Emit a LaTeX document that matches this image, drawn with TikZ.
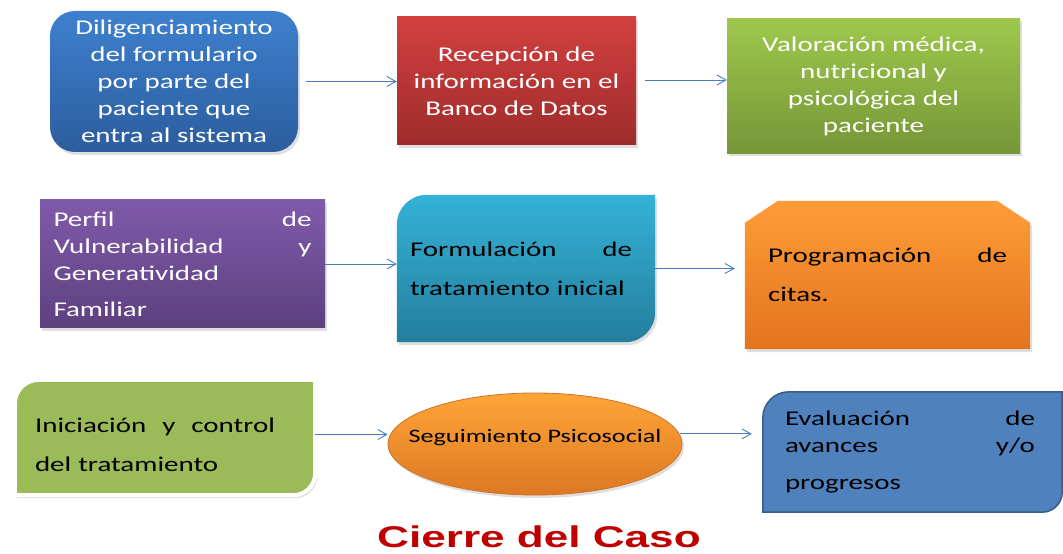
\documentclass[tikz,border=0pt]{standalone}
\usepackage{fontspec}
\setmainfont{Carlito}[FakeStretch=1.38]
\newfontfamily\titlefont{Liberation Sans}[FakeStretch=1.47]
\usetikzlibrary{shapes.geometric,shadows,calc,backgrounds,arrows.meta}

\definecolor{arrowblue}{RGB}{74,126,187}
\definecolor{titlered}{RGB}{192,0,0}

\begin{document}
\begin{tikzpicture}[x=1pt,y=1pt,
    box/.style={rectangle,inner sep=0pt,font=\fontsize{21}{27}\selectfont},
    soft/.style={drop shadow={opacity=0.25,shadow xshift=2pt,shadow yshift=-3pt}},
    flow/.style={-{Straight Barb[length=9pt,width=10pt]},arrowblue,line width=0.9pt}]
    \useasboundingbox (0,0) rectangle (1063,554);

    % First row
    \node[box,soft,rounded corners=25pt,top color={rgb,255:red,62;green,128;blue,206},
        bottom color={rgb,255:red,44;green,93;blue,158},text=white,align=center,
        minimum width=248pt,minimum height=141pt] (dil) at (174,472.5)
        {Diligenciamiento\\del formulario\\por parte del\\paciente que\\entra al sistema};
    \node[box,soft,top color={rgb,255:red,210;green,64;blue,62},
        bottom color={rgb,255:red,158;green,44;blue,44},text=white,align=center,
        minimum width=239pt,minimum height=128pt] (rec) at (516.5,473)
        {Recepción de\\información en el\\Banco de Datos};
    \node[box,soft,top color={rgb,255:red,157;green,200;blue,76},
        bottom color={rgb,255:red,118;green,150;blue,55},text=white,align=center,
        minimum width=293pt,minimum height=135pt] (val) at (873.5,468)
        {Valoración médica,\\nutricional y\\psicológica del\\paciente};

    % Second row
    \node[box,soft,top color={rgb,255:red,128;green,90;blue,170},
        bottom color={rgb,255:red,94;green,64;blue,128},text=white,align=left,
        text width=258pt,minimum width=285pt,minimum height=128pt] (perf) at (182.5,290)
        {Perfil\hfill de\\Vulnerabilidad\hfill y\\Generatividad\\[9pt]Familiar};
    \node[box,align=left,text width=232pt,minimum width=258pt,minimum height=147pt] (form) at (526,285.5)
        {\rightskip=10pt Formulación\hfill de\\[12pt]tratamiento inicial};
    \node[box,align=left,text width=239pt,minimum width=285pt,minimum height=148pt] (prog) at (887.5,279)
        {Programación\hfill de\\[12pt]citas.};

    % Third row
    \node[box,align=left,text width=260pt,minimum width=300pt,minimum height=115pt] (inic) at (165,116.5)
        {\rightskip=20pt\rule{0pt}{29pt}Iniciación\hfill y\hfill control\\[12pt]del tratamiento};
    \node[ellipse,soft,draw={rgb,255:red,205;green,115;blue,40},line width=0.8pt,
        top color={rgb,255:red,255;green,165;blue,55},bottom color={rgb,255:red,220;green,120;blue,35},
        inner sep=0pt,minimum width=294pt,minimum height=102pt,text height=14pt,text depth=16pt,
        font=\fontsize{19}{23}\selectfont] (seg) at (535,110) {\makebox[0pt]{Seguimiento Psicosocial}};
    \node[box,align=left,text width=255pt,minimum width=299pt,minimum height=120pt] (eval) at (912.5,102)
        {\rightskip=5pt Evaluación\hfill de\\avances\hfill y/o\\[10pt]progresos};

    % Shapes behind the texts
    \begin{scope}[on background layer]
        \path[soft,top color={rgb,255:red,52;green,178;blue,215},bottom color={rgb,255:red,36;green,126;blue,156}]
            (form.south west) -- ($(form.north west)+(0,-30)$) arc[start angle=180,end angle=90,radius=30]
            -- (form.north east) -- ($(form.south east)+(0,30)$) arc[start angle=0,end angle=-90,radius=30] -- cycle;
        \path[soft,top color={rgb,255:red,255;green,156;blue,56},bottom color={rgb,255:red,226;green,116;blue,30}]
            (prog.south west) -- ($(prog.north west)+(0,-22)$) -- ($(prog.north west)+(33,0)$)
            -- ($(prog.north east)+(-33,0)$) -- ($(prog.north east)+(0,-22)$) -- (prog.south east) -- cycle;
        \path[soft,fill={rgb,255:red,155;green,187;blue,89},draw=white,line width=4pt]
            (inic.south west) -- ($(inic.north west)+(0,-24)$) arc[start angle=180,end angle=90,radius=24]
            -- (inic.north east) -- ($(inic.south east)+(0,22)$) arc[start angle=0,end angle=-90,radius=22] -- cycle;
        \path[fill={rgb,255:red,79;green,129;blue,189},draw={rgb,255:red,56;green,93;blue,138},line width=1.5pt]
            (eval.south west) -- ($(eval.north west)+(0,-26)$) arc[start angle=180,end angle=90,radius=26]
            -- (eval.north east) -- ($(eval.south east)+(0,20)$) arc[start angle=0,end angle=-90,radius=20] -- cycle;
    \end{scope}

    % Arrows
    \draw[flow,shorten <=8pt] (dil.east) -- (dil.east -| rec.west);
    \draw[flow,shorten <=9pt] ([yshift=1pt]rec.east) -- ([yshift=1pt]rec.east -| val.west);
    \draw[flow] (perf.east) -- (perf.east -| form.west);
    \draw[flow,shorten >=10pt] (form.east) -- (form.east -| prog.west);
    \draw[flow] ([yshift=3pt]inic.east) -- ([yshift=3pt]inic.east -| seg.west);
    \draw[flow,shorten >=11pt] (seg.4) -- (seg.4 -| eval.west);

    % Closing
    \node[font=\titlefont\bfseries\fontsize{30}{36}\selectfont,text=titlered,anchor=base,inner sep=0pt]
        (cierre) at (539,6) {Cierre del Caso};
\end{tikzpicture}
\end{document}
